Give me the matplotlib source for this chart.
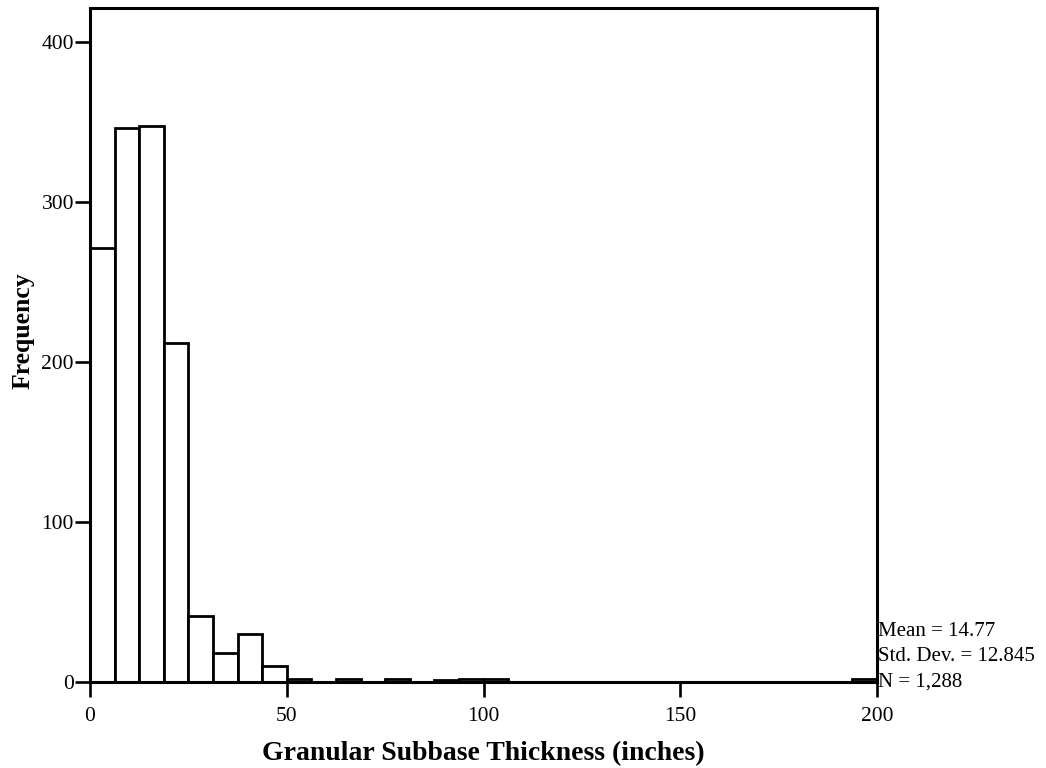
import matplotlib.pyplot as plt
import numpy as np

# histogram of granular subbase thickness, 32 bins of 6.25 in from 0 to 200
bin_start = 0.0
bin_width = 6.25
counts = [271, 346, 347, 212, 41, 18, 30, 10,
          2, 0, 2, 0, 2, 0, 1, 2,
          2, 0, 0, 0, 0, 0, 0, 0,
          0, 0, 0, 0, 0, 0, 0, 2]
x_ticks = [0, 50, 100, 150, 200]
y_ticks = [0, 100, 200, 300, 400]
stats_lines = ["Mean = 14.77", "Std. Dev. = 12.845", "N = 1,288"]

plt.rcParams["font.family"] = ["Liberation Serif", "DejaVu Serif"]

fig = plt.figure(figsize=(10.46, 7.68), dpi=100)
ax = fig.add_axes([0.086, 0.112, 0.7525, 0.8776])

lefts = bin_start + bin_width * np.arange(len(counts))
ax.bar(lefts, counts, width=bin_width, align="edge",
       facecolor="white", edgecolor="black", linewidth=2.0)

ax.set_xlim(0, 200)
ax.set_ylim(0, 421)
ax.set_xticks(x_ticks)
ax.set_yticks(y_ticks)
ax.tick_params(axis="both", direction="out", length=11, width=1.9,
               labelsize=15.5)
ax.tick_params(axis="x", pad=7)
ax.tick_params(axis="y", pad=0.5)
for spine in ax.spines.values():
    spine.set_linewidth(2.2)

ax.set_xlabel("Granular Subbase Thickness (inches)", fontsize=20,
              fontweight="bold", labelpad=11)
ax.set_ylabel("Frequency", fontsize=18.5, fontweight="bold")
ax.yaxis.set_label_coords(-0.071, 0.522)

ax.text(1.001, -0.014, "\n".join(stats_lines), transform=ax.transAxes,
        ha="left", va="bottom", fontsize=15, linespacing=1.46)

fig.savefig("out.png", dpi=100)
plt.close(fig)
